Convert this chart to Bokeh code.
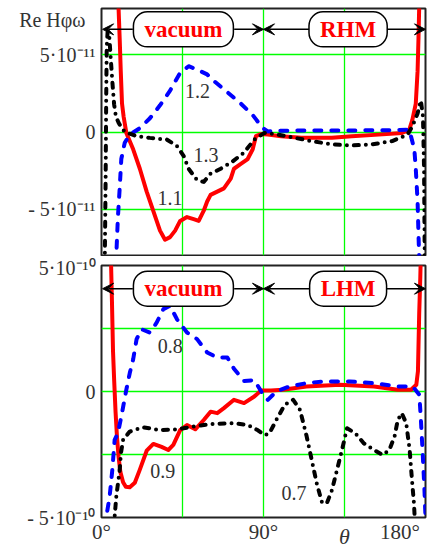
from bokeh.plotting import figure
from bokeh.layouts import column
from bokeh.models import Range1d, FixedTicker, Label, Arrow, VeeHead, LinearAxis
from bokeh.embed import file_html
from bokeh.resources import INLINE

# ---------------- data ----------------
TOP_UNIT = 1e-11
BOT_UNIT = 1e-10
NB = "\u00a0"

grid_theta = [0, 45, 90, 135, 180]
x_ticks = [0, 90, 180]
x_tick_labels = ["0°", "90°", "180°" + NB * 2]
x_title_tick = [135]
x_title = ["θ"]

y_title_tick = 7.25e-11
y_title = "Re Hφω" + NB * 2
top_y_ticks = [-5e-11, 0.0, 5e-11]
top_y_labels = ["- 5·10⁻¹¹", "0", "5·10⁻¹¹"]
bot_y_ticks = [-5e-10, 0.0, 5e-10]
bot_y_labels = ["- 5·10⁻¹⁰", "0", "5·10⁻¹⁰"]
bot_grid_y = [-5e-10, -2.5e-10, 0.0, 2.5e-10, 5e-10]

# top panel (units of 1e-11): curves 1.1 (red), 1.2 (blue), 1.3 (black)
top_red_theta = [9.3, 10.1, 10.7, 11.4, 12.3, 13.8, 17.6, 21.3, 25.1, 28.8, 32.5, 35.3, 38.1, 40.9,
                 43.7, 47.5, 51.2, 54.0, 56.8, 58.7, 60.6, 64.3, 68.0, 71.8, 73.6, 77.4, 81.2, 84.0,
                 85.8, 88.6, 92.4, 99.8, 111.0, 128.0, 139.0, 154.0, 167.0, 171.0, 172.7, 174.6,
                 175.6, 176.1, 176.6]
top_red = [8.6, 6.06, 3.94, 1.84, 0.99, -0.06, -1.12, -2.38, -3.86, -5.13, -6.39, -6.98, -6.81, -6.39,
           -5.76, -5.51, -5.65, -5.76, -5.1, -4.5, -4.07, -3.86, -3.65, -3.02, -2.38, -2.07, -1.75, -1.12,
           -0.27, -0.13, -0.17, -0.27, -0.38, -0.38, -0.27, -0.17, -0.06, 0.15, 0.78, 1.84,
           3.94, 6.06, 8.6]

top_blue_theta = [8.0, 9.1, 10.1, 11.0, 12.9, 15.7, 21.3, 26.9, 32.5, 38.1, 43.7, 48.4, 53.1, 58.7,
                  62.4, 69.9, 77.4, 84.0, 89.6, 92.4, 98.0, 116.7, 140.0, 160.0, 171.0, 173.8, 174.6,
                  175.6, 176.1, 176.6]
top_blue = [-8.6, -5.55, -3.65, -1.75, -0.70, -0.17, 0.25, 0.89, 1.73, 2.68, 3.84, 4.26, 4.05, 3.73,
            3.31, 2.58, 1.84, 1.10, 0.25, 0.04, 0.08, 0.10, 0.10, 0.12, 0.15, -1.12, -2.38,
            -4.49, -6.6, -8.6]

top_black_theta = [1.8, 2.3, 2.6, 2.9, 3.4, 4.2, 5.0, 6.0, 7.0, 8.0, 9.5, 11.0, 13.0, 19.5, 26.9,
                   36.3, 41.9, 45.6, 48.4, 53.1, 56.8, 60.6, 66.2, 72.7, 79.2, 84.9, 90.5, 98.0,
                   107.3, 116.7, 128.0, 139.0, 150.3, 161.5, 170.0, 172.7, 175.6, 177.4, 178.6,
                   179.2, 179.6]
top_black = [-8.6, -3.0, 2.0, 5.5, 6.5, 6.4, 5.0, 3.3, 1.8, 1.0, 0.6, 0.3, 0.0, -0.27, -0.38,
             -0.49, -0.91, -1.54, -2.38, -3.12, -3.23, -2.7, -2.38, -1.92, -1.33, -0.49, -0.06, -0.17,
             -0.38, -0.59, -0.80, -0.87, -0.80, -0.59, -0.17, 0.36, 1.20, 2.04, 1.0,
             -2.4, -8.6]

# bottom panel (units of 1e-10): curves 0.9 (red), 0.8 (blue), 0.7 (black)
bot_red_theta = [5.0, 5.8, 6.4, 7.0, 7.8, 8.6, 9.5, 10.5, 12.0, 13.5, 15.7, 18.5, 21.3, 25.1, 28.8,
                 33.4, 37.1, 39.9, 43.7, 47.5, 52.1, 56.8, 60.6, 64.3, 68.0, 73.6, 79.2, 84.9, 88.6,
                 94.2, 100.8, 113.8, 132.5, 151.4, 164.6, 172.0, 174.9, 175.8, 176.5, 177.1, 177.6]
bot_red = [6.0, 3.6, 1.6, 0.5, -0.8, -1.8, -2.6, -3.2, -3.6, -3.78, -3.8, -3.62, -3.1, -2.35, -2.08,
           -2.2, -2.32, -2.12, -1.53, -1.33, -1.5, -1.13, -0.8, -0.86, -0.66, -0.33, -0.46, -0.2, 0.04,
           0.04, 0.07, 0.2, 0.27, 0.2, 0.07, 0.07, 0.27, 0.8, 3.1, 4.5, 6.0]

bot_blue_theta = [2.2, 2.6, 4.5, 6.0, 7.3, 9.1, 11.0, 13.8, 15.7, 17.6, 19.5, 22.3, 26.9, 30.7, 34.4,
                  38.1, 41.9, 47.5, 53.1, 58.7, 64.3, 69.9, 73.6, 79.2, 84.9, 90.5, 92.4, 97.1, 104.4,
                  113.8, 123.2, 138.0, 151.4, 164.6, 172.9, 176.6, 177.5, 178.5, 179.4, 180.0]
bot_blue = [-5.4, -5.0, -4.18, -3.12, -1.92, -1.66, -1.0, 0.07, 0.73, 1.28, 2.08, 2.47, 2.34, 2.74, 3.27,
            3.40, 2.87, 2.34, 2.08, 1.55, 1.35, 1.35, 0.9, 0.42, 0.45, -0.2, -0.33, 0.0, 0.2,
            0.33, 0.4, 0.4, 0.33, 0.2, 0.2, -0.13, -1.2, -2.53, -3.86, -5.0]

bot_black_theta = [6.8, 7.3, 8.2, 10.1, 10.8, 12.0, 15.7, 23.2, 32.5, 41.9, 51.2, 60.6, 73.6, 81.2,
                   86.7, 90.5, 93.3, 97.1, 101.8, 106.5, 110.3, 114.0, 116.8, 119.6, 122.4, 125.1,
                   128.0, 130.8, 133.6, 136.4, 141.1, 145.8, 151.4, 156.2, 159.9, 162.8, 164.6, 166.8,
                   169.3, 171.2, 172.5, 173.6, 174.0, 174.3]
bot_black = [-5.4, -4.97, -4.18, -3.12, -2.45, -1.92, -1.59, -1.42, -1.53, -1.50, -1.39, -1.29, -1.26, -1.33,
             -1.53, -1.73, -1.66, -1.13, -0.53, -0.33, -0.73, -1.79, -2.72, -3.65, -4.38, -4.45,
             -3.92, -3.12, -2.32, -1.46, -1.66, -2.06, -2.32, -2.52, -2.32, -1.79, -1.13, -0.86,
             -1.26, -2.32, -3.52, -4.45, -5.0, -5.4]

top_curve_labels = ["1.1", "1.2", "1.3"]
bot_curve_labels = ["0.9", "0.8", "0.7"]

# ---------------- styling ----------------
SERIF = "Liberation Serif"
GRID = "#00ff00"
TXT = "#333333"
RED, BLUE, BLACK = "#ff0000", "#0000ff", "#000000"
W = 430


def scaled(vals, unit):
    return [v * unit for v in vals]


def plain_axis(ax, size):
    ax.axis_line_color = None
    ax.major_tick_line_color = None
    ax.minor_tick_line_color = None
    ax.major_tick_out = 0
    ax.major_tick_in = 0
    ax.minor_tick_out = 0
    ax.major_label_text_font = SERIF
    ax.major_label_text_font_size = size
    ax.major_label_text_color = TXT


def make_fig(height, yr, btop, bbottom, yticks, ylabels, ygrid):
    p = figure(width=W, height=height, x_range=Range1d(0, 180), y_range=yr,
               output_backend="svg", toolbar_location=None,
               min_border_left=101, min_border_right=5,
               min_border_top=btop, min_border_bottom=bbottom)
    p.background_fill_color = "white"
    p.border_fill_color = "white"
    p.outline_line_color = "#222222"
    p.outline_line_width = 2
    p.xgrid.ticker = FixedTicker(ticks=grid_theta)
    p.ygrid.ticker = FixedTicker(ticks=ygrid)
    for g in (p.xgrid, p.ygrid):
        g.grid_line_color = GRID
        g.grid_line_width = 1.3
        g.grid_line_alpha = 1.0
    ax = p.yaxis[0]
    ax.ticker = FixedTicker(ticks=list(yticks))
    ax.major_label_overrides = {t: s for t, s in zip(yticks, ylabels)}
    plain_axis(ax, "20px")
    ax.major_label_standoff = 6
    return p


def draw_curves(p, theta_r, r, theta_b, b, theta_k, k, unit):
    p.line(theta_r, scaled(r, unit), line_color=RED, line_width=4,
           line_cap="round", line_join="round")
    p.line(theta_b, scaled(b, unit), line_color=BLUE, line_width=4, line_dash="7 10",
           line_cap="round", line_join="round")
    p.line(theta_k, scaled(k, unit), line_color=BLACK, line_width=4, line_dash="5 7 0 7",
           line_cap="round", line_join="round")


def region_marks(p, yv, right_name):
    # rounded boxes with red names and arrows to the region boundaries
    for txt, xc in (("vacuum", 45.5), (right_name, 137.0)):
        p.add_layout(Label(x=xc, y=yv, text=txt, text_align="center", text_baseline="middle",
                           text_font=SERIF, text_font_style="bold", text_font_size="23px",
                           text_color=RED, background_fill_color="white",
                           border_line_color="black", border_line_width=1.5,
                           border_radius=14,
                           padding=dict(left=11, right=11, top=5, bottom=5)))
    for xs, xe in ((17.4, 0.6), (73.7, 90.0), (115.3, 90.0), (158.6, 180.0)):
        p.add_layout(Arrow(x_start=xs, y_start=yv, x_end=xe, y_end=yv, line_width=1.5,
                           line_color="black",
                           end=VeeHead(size=11, fill_color="black", line_color="black",
                                       line_width=1)))


def curve_label(p, x, y, txt):
    p.add_layout(Label(x=x, y=y, text=txt, text_align="center", text_baseline="middle",
                       text_font=SERIF, text_font_size="20px", text_color=TXT))


# ---------------- top panel ----------------
top = make_fig(256, Range1d(-8e-11, 8e-11), 8, 1,
               top_y_ticks + [y_title_tick], top_y_labels + [y_title], top_y_ticks)
top.xaxis.visible = False
draw_curves(top, top_red_theta, top_red, top_blue_theta, top_blue, top_black_theta, top_black,
            TOP_UNIT)
region_marks(top, 6.65e-11, "RHM")
curve_label(top, 38.0, -4.3e-11, top_curve_labels[0])
curve_label(top, 53.4, 2.66e-11, top_curve_labels[1])
curve_label(top, 58.0, -1.46e-11, top_curve_labels[2])

# ---------------- bottom panel ----------------
bot = make_fig(295, Range1d(-5e-10, 5e-10), 9, 30, bot_y_ticks, bot_y_labels, bot_grid_y)
xa = bot.xaxis[0]
xa.ticker = FixedTicker(ticks=x_ticks)
xa.major_label_overrides = {t: s for t, s in zip(x_ticks, x_tick_labels)}
plain_axis(xa, "21px")
xa.major_label_standoff = 2

xt = LinearAxis(ticker=FixedTicker(ticks=x_title_tick),
                major_label_overrides={t: s for t, s in zip(x_title_tick, x_title)})
plain_axis(xt, "22px")
xt.major_label_text_font_style = "italic"
xt.major_label_standoff = -23
bot.add_layout(xt, "below")

draw_curves(bot, bot_red_theta, bot_red, bot_blue_theta, bot_blue, bot_black_theta, bot_black,
            BOT_UNIT)
region_marks(bot, 4.08e-10, "LHM")
curve_label(bot, 38.2, 1.79e-10, bot_curve_labels[1])
curve_label(bot, 34.0, -3.17e-10, bot_curve_labels[0])
curve_label(bot, 106.9, -4.03e-10, bot_curve_labels[2])

layout = column(top, bot)
open("out.html", "w").write(file_html(layout, INLINE))
